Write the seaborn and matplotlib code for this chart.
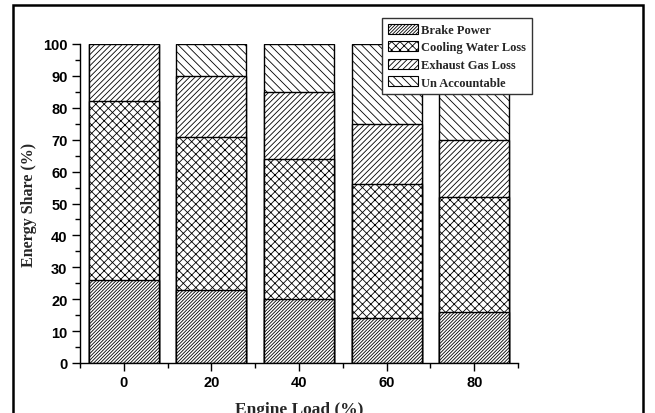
import matplotlib
matplotlib.use("Agg")
import matplotlib.pyplot as plt
import seaborn as sns
import pandas as pd
from matplotlib.patches import Patch, Rectangle
from matplotlib.ticker import MultipleLocator

loads = [0, 20, 40, 60, 80]
brake_power = [26, 23, 20, 14, 16]
cooling_water_loss = [56, 48, 44, 42, 36]
exhaust_gas_loss = [18, 19, 21, 19, 18]
un_accountable = [0, 10, 15, 25, 30]

series_names = ["Brake Power", "Cooling Water Loss", "Exhaust Gas Loss", "Un Accountable"]
series_values = [brake_power, cooling_water_loss, exhaust_gas_loss, un_accountable]
hatches = ["//////////", "xxxx", "//////", "\\\\\\\\"]

sns.set_theme(style="ticks")
plt.rcParams["hatch.linewidth"] = 0.6

fig = plt.figure(figsize=(6.55, 4.14), dpi=100)
ax = fig.add_axes([80/655, 1 - 364/414, (518-80)/655, (364-45)/414])

# cumulative tops
cum = []
run = [0]*len(loads)
for vals in series_values:
    run = [r + v for r, v in zip(run, vals)]
    cum.append(run)

df = pd.DataFrame({"load": loads})
for name, c in zip(series_names, cum):
    df[name] = c

# draw from tallest layer down so lower layers overlay
for name, h in reversed(list(zip(series_names, hatches))):
    sns.barplot(data=df, x="load", y=name, native_scale=True, ax=ax,
                color="white", saturation=1, edgecolor="black", linewidth=1.0,
                hatch=h, errorbar=None)

ax.set_xlim(-10, 90)
ax.set_ylim(0, 100)
ax.set_xticks(loads)
ax.xaxis.set_minor_locator(MultipleLocator(10))
ax.yaxis.set_major_locator(MultipleLocator(10))
ax.yaxis.set_minor_locator(MultipleLocator(5))
ax.tick_params(axis="both", which="major", length=6, width=1, direction="out", pad=3, colors="black")
ax.tick_params(axis="both", which="minor", length=3.5, width=1, direction="out", colors="black")
for lab in ax.get_xticklabels() + ax.get_yticklabels():
    lab.set_fontfamily("Liberation Sans")
    lab.set_fontweight("bold")
    lab.set_fontsize(10.5)
sns.despine(ax=ax, top=True, right=True)
for s in ["left", "bottom"]:
    ax.spines[s].set_linewidth(1.0)
    ax.spines[s].set_color("black")

ax.set_xlabel("Engine Load (%)", fontfamily="Liberation Serif", fontweight="bold", fontsize=12.5, labelpad=8)
ax.set_ylabel("Energy Share (%)", fontfamily="Liberation Serif", fontweight="bold", fontsize=11.5, labelpad=4)

handles = [Patch(facecolor="white", edgecolor="black", hatch=h, linewidth=0.8) for h in hatches]
leg = fig.legend(handles, series_names, loc="upper left", bbox_to_anchor=(382/655, 1 - 19/414),
                 bbox_transform=fig.transFigure, frameon=True, fancybox=False, framealpha=1,
                 edgecolor="#333333", prop={"family": "Liberation Serif", "weight": "bold", "size": 9},
                 handlelength=2.4, handleheight=0.85, handletextpad=0.3, labelspacing=0.42,
                 borderpad=0.45, borderaxespad=0)
leg.get_frame().set_linewidth(1.0)
leg.set_zorder(10)

fig.add_artist(Rectangle((13/655, -0.1), (643-13)/655, (414-6)/414 + 0.1,
                         transform=fig.transFigure, fill=False, edgecolor="black", linewidth=1.8))

fig.savefig("out.png", dpi=100)
